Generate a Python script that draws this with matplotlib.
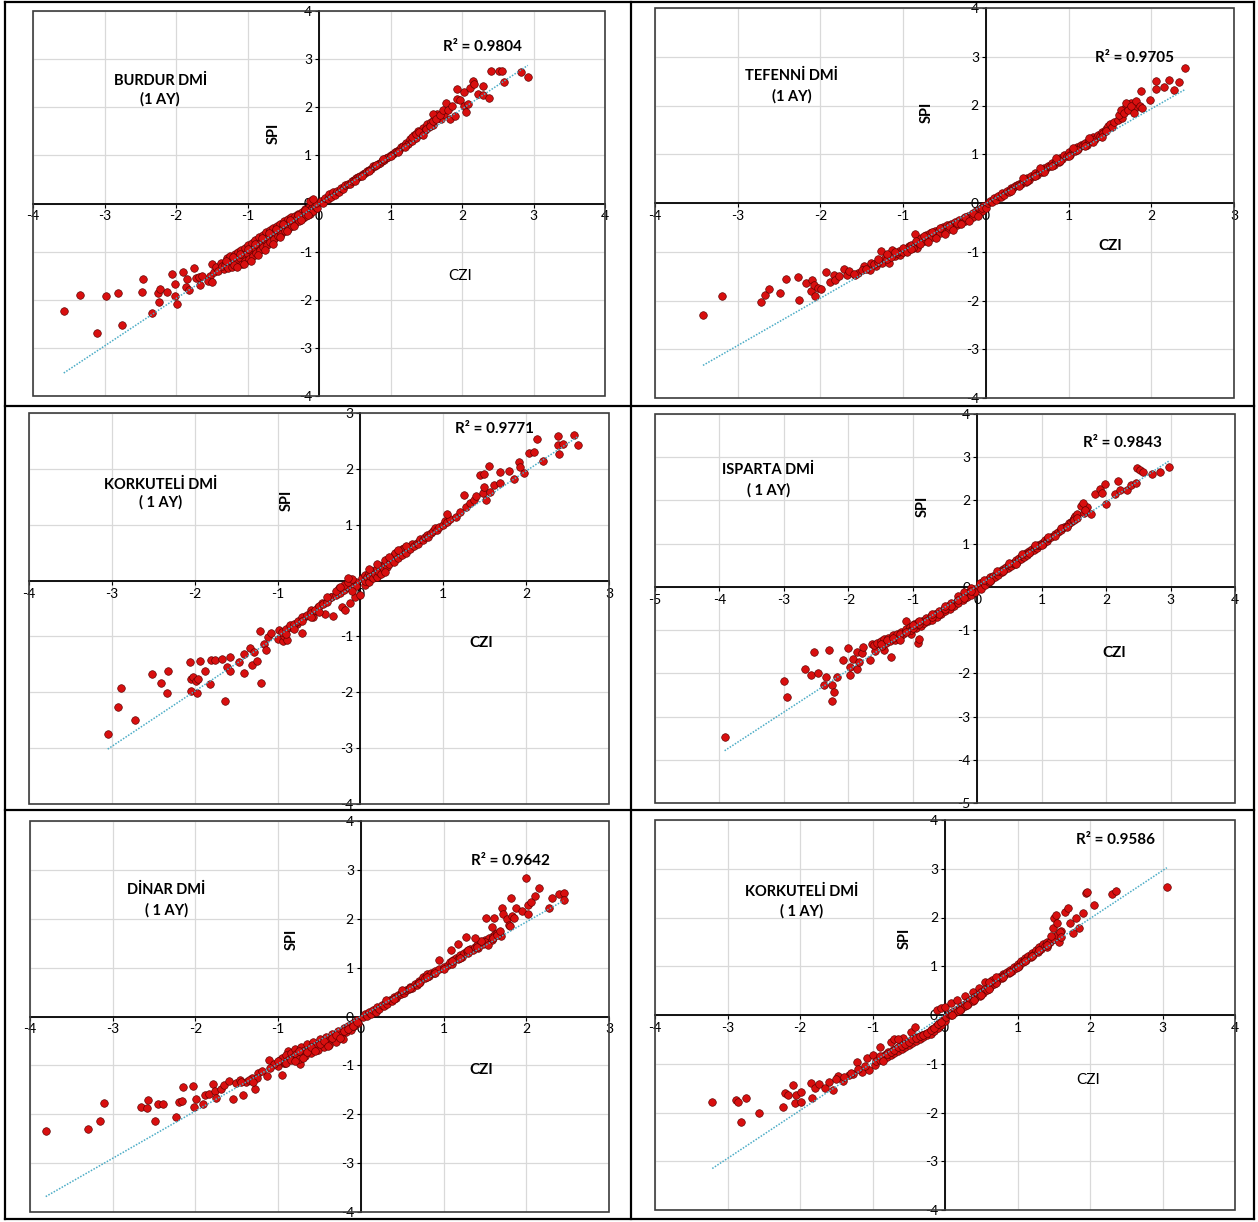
import numpy as np
import matplotlib.pyplot as plt
from matplotlib.lines import Line2D
from matplotlib.patches import Rectangle

plt.rcParams["font.family"] = ["Lato", "DejaVu Sans"]
plt.rcParams["axes.unicode_minus"] = False

# CZI / SPI pairs (approximate)
burdur = [
    (-3.57, -2.24), (-3.34, -1.90), (-2.98, -1.93), (-3.11, -2.69), (-2.81, -1.85), (-2.75, -2.52),
    (-2.46, -1.56), (-2.47, -1.83), (-2.33, -2.27), (-2.25, -1.87), (-2.23, -1.77), (-2.24, -2.05),
    (-2.13, -1.83), (-2.06, -1.47), (-2.02, -1.68), (-2.02, -1.92), (-1.98, -2.09), (-1.90, -1.43),
    (-1.85, -1.56), (-1.86, -1.73), (-1.82, -1.80), (-1.75, -1.35), (-1.72, -1.54), (-1.68, -1.52),
    (-1.67, -1.70), (-1.64, -1.50), (-1.53, -1.51), (-1.49, -1.25), (-1.55, -1.61), (-1.47, -1.42),
    (-1.50, -1.63),
    (-1.44, -1.32), (-1.41, -1.40), (-1.37, -1.24), (-1.33, -1.36), (-1.36, -1.30), (-1.29, -1.14),
    (-1.31, -1.28), (-1.27, -1.35), (-1.24, -1.10), (-1.21, -1.22), (-1.22, -1.32), (-1.18, -1.05),
    (-1.16, -1.17), (-1.19, -1.28), (-1.13, -1.01), (-1.11, -1.13), (-1.08, -1.25), (-1.09, -0.96),
    (-1.06, -1.08), (-1.03, -1.20), (-1.04, -0.92), (-1.01, -1.02), (-0.98, -1.15), (-0.99, -0.86),
    (-0.96, -0.97), (-0.93, -1.09), (-0.94, -0.82), (-0.91, -0.92), (-0.88, -1.03), (-0.89, -0.76),
    (-0.86, -0.86), (-0.83, -0.97), (-0.84, -0.70), (-0.81, -0.80), (-0.78, -0.91), (-0.79, -0.65),
    (-0.76, -0.75), (-0.73, -0.86), (-0.74, -0.60), (-0.71, -0.70), (-0.68, -0.80), (-0.69, -0.55),
    (-0.66, -0.64), (-0.63, -0.74), (-0.64, -0.50), (-0.61, -0.59), (-0.58, -0.68), (-0.59, -0.46),
    (-0.56, -0.54), (-0.53, -0.63), (-0.54, -0.42), (-0.51, -0.49), (-0.48, -0.57), (-0.49, -0.37),
    (-0.46, -0.44), (-0.43, -0.52), (-0.44, -0.33), (-0.41, -0.39), (-0.38, -0.47), (-0.39, -0.29),
    (-0.36, -0.35), (-0.33, -0.41), (-0.34, -0.25), (-0.31, -0.30), (-0.28, -0.36), (-0.29, -0.21),
    (-0.26, -0.26), (-0.23, -0.31), (-0.24, -0.17), (-0.21, -0.21), (-0.18, -0.26), (-0.19, -0.12),
    (-0.16, -0.16), (-0.13, -0.21), (-0.14, -0.08), (-0.11, -0.11), (-0.08, -0.15), (-0.09, -0.03),
    (-0.06, -0.06), (-0.03, -0.09), (-0.04, 0.02), (-0.12, 0.06), (-0.08, 0.09),
    (-1.30, -1.20), (-1.20, -1.12), (-1.10, -1.04), (-1.00, -0.94), (-0.90, -0.84), (-0.80, -0.72),
    (-0.70, -0.62), (-0.60, -0.52), (-0.50, -0.42), (-0.40, -0.34), (-0.30, -0.24), (-0.20, -0.14),
    (-1.15, -1.32), (-1.05, -1.26), (-0.95, -1.20), (-0.85, -1.08), (-0.75, -0.96), (-0.65, -0.84),
    (-0.55, -0.70), (-0.45, -0.58), (-0.35, -0.46), (-0.25, -0.34), (-0.15, -0.24),
    (0.03, 0.06), (0.06, 0.02), (0.09, 0.12), (0.12, 0.09), (0.14, 0.20), (0.17, 0.14), (0.20, 0.23),
    (0.22, 0.18), (0.25, 0.27), (0.28, 0.24), (0.31, 0.33), (0.34, 0.30), (0.37, 0.38), (0.40, 0.41),
    (0.43, 0.40), (0.46, 0.47), (0.49, 0.48), (0.52, 0.53), (0.55, 0.55), (0.58, 0.57), (0.61, 0.62),
    (0.64, 0.63), (0.67, 0.68), (0.70, 0.70), (0.73, 0.72), (0.76, 0.77), (0.79, 0.78), (0.82, 0.83),
    (0.85, 0.84), (0.88, 0.89), (0.91, 0.90), (0.94, 0.95), (0.97, 0.96), (1.00, 1.01), (1.03, 1.03),
    (1.06, 1.06), (1.09, 1.10), (1.12, 1.12), (1.15, 1.17), (1.18, 1.19), (1.21, 1.25), (1.24, 1.24),
    (1.27, 1.33), (1.30, 1.30), (1.33, 1.42), (1.36, 1.37), (1.39, 1.50), (1.42, 1.44), (1.45, 1.56),
    (1.48, 1.52), (1.51, 1.65), (1.54, 1.58), (1.57, 1.70), (1.60, 1.64), (1.62, 1.78),
    (1.30, 1.38), (1.35, 1.45), (1.40, 1.48), (1.45, 1.42), (1.50, 1.55), (1.55, 1.62), (1.60, 1.72),
    (1.65, 1.85), (1.70, 1.75), (1.75, 1.85), (0.50, 0.46), (0.60, 0.58), (0.70, 0.68), (0.80, 0.80),
    (0.90, 0.92), (1.00, 0.98), (1.10, 1.08), (1.20, 1.18),
    (1.59, 1.87), (1.63, 1.76), (1.69, 1.83), (1.73, 1.94), (1.77, 2.08), (1.81, 1.94), (1.83, 1.76),
    (1.86, 2.02), (1.90, 1.81), (1.93, 2.18), (1.93, 2.38), (1.97, 2.16), (2.03, 2.31), (2.03, 2.02),
    (2.06, 1.90), (2.08, 2.06), (2.11, 2.41), (2.15, 2.55), (2.17, 2.49), (2.23, 2.27), (2.29, 2.44),
    (2.30, 2.26), (2.38, 2.20), (2.41, 2.75), (2.52, 2.75), (2.56, 2.75), (2.59, 2.53), (2.83, 2.74),
    (2.92, 2.63),
]

tefenni = [
    (-3.42, -2.29), (-3.19, -1.90), (-2.72, -2.04), (-2.67, -1.89), (-2.62, -1.76), (-2.49, -1.85),
    (-2.42, -1.55), (-2.27, -1.52), (-2.26, -1.98), (-2.17, -1.64), (-2.11, -1.80), (-2.10, -1.57),
    (-2.08, -1.69), (-2.06, -1.91), (-2.03, -1.75), (-1.99, -1.76), (-1.93, -1.42), (-1.88, -1.63),
    (-1.84, -1.48), (-1.82, -1.57), (-1.78, -1.50), (-1.71, -1.35), (-1.68, -1.48), (-1.65, -1.40),
    (-1.58, -1.48), (-1.54, -1.44), (-1.47, -1.30), (-1.40, -1.38), (-1.39, -1.23), (-1.33, -1.30),
    (-1.27, -0.99), (-1.25, -1.23), (-1.17, -1.23), (-1.13, -0.97), (-1.10, -1.09), (-1.04, -1.06),
    (-0.98, -0.97), (-0.93, -0.89), (-0.86, -0.64), (-0.83, -0.92),
    (-1.60, -1.45), (-1.50, -1.38), (-1.45, -1.35), (-1.35, -1.25), (-1.30, -1.22), (-1.22, -1.12),
    (-1.20, -1.15), (-1.15, -1.10), (-1.08, -1.02), (-1.05, -0.98), (-1.00, -1.00), (-0.95, -0.93),
    (-0.90, -0.86), (-0.88, -0.92), (-0.78, -0.72), (-0.75, -0.78), (-0.72, -0.66), (-0.70, -0.74),
    (-0.68, -0.62), (-0.65, -0.70), (-0.62, -0.58), (-0.60, -0.66), (-0.57, -0.55), (-0.55, -0.62),
    (-0.52, -0.50), (-0.50, -0.58), (-0.47, -0.46), (-0.45, -0.54), (-0.42, -0.44), (-0.40, -0.50),
    (-0.37, -0.38), (-0.35, -0.46), (-0.32, -0.34), (-0.30, -0.40), (-0.27, -0.30), (-0.25, -0.36),
    (-0.22, -0.26), (-0.20, -0.32), (-0.17, -0.22), (-0.15, -0.28), (-0.12, -0.16), (-0.10, -0.22),
    (-0.07, -0.12), (-0.05, -0.16), (-0.03, -0.06),
    (-1.30, -1.15), (-1.20, -1.05), (-1.10, -1.00), (-1.00, -0.92), (-0.95, -1.00), (-0.90, -0.95),
    (-0.85, -0.78), (-0.80, -0.84), (-0.75, -0.68), (-0.70, -0.80), (-0.65, -0.60), (-0.60, -0.72),
    (-0.55, -0.52), (-0.50, -0.64), (-0.45, -0.48), (-0.40, -0.56), (-0.35, -0.40), (-0.30, -0.44),
    (-0.25, -0.28), (-0.20, -0.36), (-0.15, -0.20), (-0.10, -0.26), (-0.05, -0.10), (0.00, -0.10),
    (0.02, 0.00), (0.05, 0.05), (0.08, 0.02), (0.10, 0.10), (0.12, 0.06), (0.15, 0.14), (0.18, 0.12),
    (0.20, 0.20), (0.22, 0.16), (0.25, 0.24), (0.28, 0.22), (0.30, 0.30), (0.32, 0.28), (0.35, 0.34),
    (0.38, 0.36), (0.40, 0.40), (0.42, 0.38), (0.45, 0.46), (0.48, 0.44), (0.50, 0.52), (0.52, 0.48),
    (0.55, 0.56), (0.58, 0.55), (0.60, 0.62), (0.62, 0.58), (0.65, 0.66), (0.68, 0.64), (0.70, 0.72),
    (0.72, 0.68), (0.75, 0.76), (0.78, 0.75), (0.80, 0.82), (0.82, 0.78), (0.85, 0.86), (0.88, 0.85),
    (0.90, 0.92), (0.92, 0.90), (0.95, 0.98), (0.98, 0.96), (1.00, 1.04), (1.02, 0.98), (1.05, 1.08),
    (1.08, 1.06), (1.10, 1.14), (1.12, 1.10), (1.15, 1.18), (1.18, 1.20), (1.20, 1.24), (1.22, 1.20),
    (1.25, 1.30), (1.28, 1.28), (1.30, 1.36), (1.32, 1.32), (1.35, 1.40), (1.38, 1.38), (1.40, 1.46),
    (1.42, 1.44), (1.45, 1.52), (1.48, 1.58), (1.50, 1.62), (1.52, 1.55), (1.55, 1.66),
    (0.30, 0.24), (0.40, 0.34), (0.50, 0.46), (0.60, 0.56), (0.70, 0.64), (0.80, 0.76), (0.90, 0.86),
    (1.00, 0.96), (1.10, 1.08), (1.20, 1.16), (1.30, 1.26), (1.40, 1.36), (0.45, 0.52), (0.65, 0.72),
    (0.85, 0.92), (1.05, 1.12), (1.25, 1.34), (1.45, 1.48), (1.60, 1.70), (1.65, 1.75), (1.68, 1.95),
    (1.75, 2.05), (1.80, 1.95),
    (1.61, 1.81), (1.63, 1.91), (1.67, 1.85), (1.70, 2.05), (1.72, 1.91), (1.76, 1.98), (1.79, 1.85),
    (1.82, 2.09), (1.86, 2.00), (1.87, 2.29), (1.89, 1.95), (1.98, 2.12), (2.06, 2.50), (2.06, 2.34),
    (2.15, 2.38), (2.21, 2.52), (2.27, 2.32), (2.33, 2.48), (2.41, 2.76),
]

korkuteli_a = [
    (-3.05, -2.75), (-2.92, -2.26), (-2.89, -1.93), (-2.72, -2.50), (-2.52, -1.68), (-2.41, -1.84),
    (-2.33, -2.01), (-2.32, -1.62), (-2.06, -1.46), (-2.05, -1.98), (-2.04, -1.76), (-2.02, -1.72),
    (-1.99, -1.79), (-1.97, -2.02), (-1.94, -1.44), (-1.96, -1.76), (-1.87, -1.61), (-1.82, -1.86),
    (-1.80, -1.43), (-1.76, -1.43), (-1.67, -1.41), (-1.64, -2.16), (-1.61, -1.55), (-1.58, -1.61),
    (-1.57, -1.36), (-1.46, -1.46), (-1.41, -1.32), (-1.40, -1.66), (-1.33, -1.20), (-1.31, -1.52),
    (-1.29, -1.28), (-1.25, -1.44), (-1.21, -0.90), (-1.20, -1.84), (-1.16, -1.13), (-1.14, -1.25),
    (-1.11, -1.01), (-1.08, -0.94), (-1.00, -1.04), (-0.98, -0.89), (-0.94, -1.08), (-0.92, -0.99),
    (-0.89, -1.06), (-0.85, -0.83), (-0.77, -0.77), (-0.71, -0.94), (-0.68, -0.65), (-0.60, -0.53),
    (-0.57, -0.66), (-0.51, -0.47), (-0.46, -0.40), (-0.43, -0.60), (-0.33, -0.64), (-0.36, -0.29),
    (-0.22, -0.48), (-0.19, -0.53), (-0.12, -0.41), (-0.07, -0.29), (0.00, -0.26), (-0.26, -0.14),
    (-0.95, -0.92), (-0.90, -0.86), (-0.85, -0.80), (-0.80, -0.78), (-0.75, -0.72), (-0.70, -0.66),
    (-0.65, -0.62), (-0.60, -0.58), (-0.55, -0.52), (-0.50, -0.46), (-0.45, -0.42), (-0.40, -0.38),
    (-0.35, -0.30), (-0.30, -0.26), (-0.25, -0.22), (-0.20, -0.16), (-0.15, -0.12), (-0.10, -0.06),
    (-0.05, -0.02), (-0.20, -0.08), (-0.15, -0.02), (-0.10, 0.02), (-0.30, -0.18), (-0.40, -0.30),
    (0.05, -0.08), (-0.05, -0.10), (-0.10, -0.18), (-0.15, 0.04), (-0.25, -0.12), (-0.50, -0.56),
    (-0.60, -0.66), (-0.70, -0.72), (-0.80, -0.86), (-0.90, -0.96),
    (0.02, 0.04), (0.05, 0.00), (0.05, 0.10), (0.08, 0.06), (0.10, 0.14), (0.10, -0.02), (0.12, 0.08),
    (0.15, 0.18), (0.15, 0.04), (0.18, 0.12), (0.20, 0.22), (0.20, 0.06), (0.22, 0.16), (0.25, 0.26),
    (0.25, 0.12), (0.28, 0.20), (0.30, 0.32), (0.30, 0.36), (0.32, 0.24), (0.35, 0.30), (0.38, 0.40),
    (0.40, 0.34), (0.40, 0.45), (0.42, 0.50), (0.45, 0.40), (0.48, 0.52), (0.50, 0.46), (0.50, 0.56),
    (0.52, 0.58), (0.55, 0.50), (0.58, 0.60), (0.60, 0.56), (0.62, 0.66), (0.65, 0.62), (0.68, 0.68),
    (0.70, 0.66), (0.72, 0.74), (0.75, 0.72), (0.78, 0.78), (0.80, 0.82), (0.82, 0.78), (0.85, 0.86),
    (0.88, 0.88), (0.90, 0.94), (0.92, 0.90), (0.95, 0.96), (1.00, 1.00), (1.02, 1.06), (1.05, 1.04),
    (1.08, 1.10), (0.10, 0.20), (0.20, 0.30), (0.30, 0.16), (0.35, 0.42), (0.45, 0.55), (0.55, 0.62),
    (1.04, 1.20), (1.15, 1.14), (1.20, 1.23), (1.25, 1.54), (1.27, 1.31), (1.32, 1.38), (1.37, 1.44),
    (1.39, 1.51), (1.44, 1.89), (1.48, 1.57), (1.49, 1.91), (1.49, 1.68), (1.51, 1.44), (1.55, 2.06),
    (1.56, 1.59), (1.61, 1.71), (1.68, 1.95), (1.69, 1.74), (1.79, 1.96), (1.85, 1.81), (1.91, 2.12),
    (1.93, 2.04), (1.98, 1.92), (2.03, 2.28), (2.10, 2.31), (2.13, 2.53), (2.20, 2.14), (2.39, 2.58),
    (2.39, 2.43), (2.40, 2.27), (2.44, 2.44), (2.58, 2.61), (2.63, 2.42),
]

isparta = [
    (-3.92, -3.48), (-3.00, -2.17), (-2.95, -2.54), (-2.68, -1.91), (-2.58, -2.04), (-2.54, -1.51),
    (-2.47, -2.00), (-2.37, -2.28), (-2.35, -2.09), (-2.30, -1.47), (-2.25, -2.28), (-2.25, -2.65),
    (-2.22, -2.44), (-2.17, -2.09), (-2.08, -1.69), (-2.00, -1.42), (-1.98, -1.86), (-1.97, -2.03),
    (-1.93, -1.67), (-1.87, -1.90), (-1.86, -1.51), (-1.84, -1.74), (-1.79, -1.53), (-1.77, -1.38),
    (-1.66, -1.69), (-1.63, -1.33), (-1.59, -1.49), (-1.53, -1.30), (-1.44, -1.47), (-1.34, -1.63),
    (-1.31, -1.20), (-1.25, -1.16), (-1.10, -0.78), (-1.10, -1.01), (-1.03, -1.10), (-0.92, -1.30),
    (-0.91, -1.20),
    (-1.60, -1.35), (-1.55, -1.30), (-1.50, -1.25), (-1.48, -1.36), (-1.45, -1.20), (-1.42, -1.30),
    (-1.38, -1.18), (-1.35, -1.26), (-1.30, -1.12), (-1.28, -1.22), (-1.25, -1.08), (-1.20, -1.16),
    (-1.18, -1.04), (-1.15, -1.10), (-1.10, -0.98), (-1.05, -0.92), (-1.02, -1.00), (-0.98, -0.86),
    (-0.95, -0.94), (-0.92, -0.82), (-0.88, -0.90), (-0.85, -0.78), (-0.82, -0.84), (-0.80, -0.72),
    (-0.76, -0.80), (-0.72, -0.68), (-0.70, -0.76), (-0.66, -0.62), (-0.62, -0.70), (-0.60, -0.56),
    (-0.56, -0.62), (-0.52, -0.50), (-0.50, -0.56), (-0.46, -0.44), (-0.42, -0.50), (-0.40, -0.38),
    (-0.36, -0.44), (-0.32, -0.32), (-0.30, -0.38), (-0.26, -0.26), (-0.22, -0.30), (-0.20, -0.20),
    (-0.16, -0.24), (-0.12, -0.12), (-0.10, -0.18), (-0.06, -0.06), (-0.04, -0.12), (-0.10, -0.02),
    (-0.20, -0.12), (-0.30, -0.20),
    (-1.50, -1.32), (-1.40, -1.24), (-1.30, -1.18), (-1.20, -1.10), (-1.10, -1.04), (-1.00, -0.94),
    (-0.90, -0.86), (-0.80, -0.78), (-0.70, -0.70), (-0.60, -0.62), (-0.50, -0.50), (-0.40, -0.44),
    (-0.30, -0.30), (-0.20, -0.26), (-0.10, -0.10), (-0.70, -0.62), (-0.50, -0.44), (-0.90, -0.78),
    (-1.20, -1.24), (-1.00, -0.88),
    (0.02, 0.02), (0.05, 0.08), (0.06, -0.04), (0.10, 0.10), (0.12, 0.04), (0.15, 0.16), (0.18, 0.12),
    (0.20, 0.22), (0.22, 0.16), (0.25, 0.26), (0.28, 0.22), (0.30, 0.30), (0.32, 0.28), (0.35, 0.36),
    (0.38, 0.34), (0.40, 0.42), (0.42, 0.38), (0.45, 0.46), (0.48, 0.44), (0.50, 0.50), (0.52, 0.48),
    (0.55, 0.56), (0.58, 0.54), (0.60, 0.62), (0.62, 0.58), (0.65, 0.66), (0.68, 0.64), (0.70, 0.72),
    (0.72, 0.70), (0.75, 0.78), (0.78, 0.74), (0.80, 0.84), (0.82, 0.80), (0.85, 0.88), (0.88, 0.86),
    (0.90, 0.92), (0.92, 0.90), (0.95, 0.98), (0.98, 0.96), (1.00, 1.02), (1.02, 1.00), (1.05, 1.08),
    (1.08, 1.06), (1.10, 1.12), (1.15, 1.16), (1.20, 1.22), (1.25, 1.26), (1.30, 1.32), (1.35, 1.38),
    (1.40, 1.42), (1.42, 1.48), (1.45, 1.50), (1.48, 1.55), (1.50, 1.60), (1.52, 1.64), (1.55, 1.68),
    (0.10, 0.16), (0.20, 0.14), (0.30, 0.36), (0.40, 0.36), (0.50, 0.56), (0.60, 0.54), (0.70, 0.76),
    (0.80, 0.78), (0.90, 0.96), (1.00, 0.96), (1.10, 1.16), (1.20, 1.18), (1.30, 1.36), (1.40, 1.38),
    (1.50, 1.54), (1.55, 1.60), (1.65, 1.72), (1.70, 1.85),
    (1.61, 1.88), (1.64, 1.94), (1.68, 1.78), (1.77, 1.69), (1.83, 2.15), (1.91, 2.27), (1.94, 2.17),
    (1.99, 2.38), (2.00, 1.92), (2.14, 2.15), (2.19, 2.44), (2.22, 2.25), (2.33, 2.24), (2.39, 2.36),
    (2.47, 2.40), (2.48, 2.75), (2.53, 2.71), (2.58, 2.65), (2.71, 2.61), (2.84, 2.65), (2.97, 2.78),
]

dinar = [
    (-3.81, -2.35), (-3.30, -2.31), (-3.15, -2.13), (-3.10, -1.76), (-2.66, -1.86), (-2.58, -1.87),
    (-2.57, -1.70), (-2.49, -2.14), (-2.45, -1.80), (-2.39, -1.80), (-2.23, -2.05), (-2.20, -1.75),
    (-2.16, -1.72), (-2.15, -1.45), (-2.03, -1.42), (-2.02, -1.86), (-1.99, -1.69), (-1.91, -1.79),
    (-1.88, -1.61), (-1.83, -1.58), (-1.79, -1.38), (-1.76, -1.53), (-1.75, -1.67), (-1.69, -1.48),
    (-1.66, -1.41), (-1.59, -1.32), (-1.54, -1.68), (-1.51, -1.37), (-1.46, -1.29), (-1.43, -1.61),
    (-1.39, -1.34), (-1.32, -1.26), (-1.28, -1.48), (-1.24, -1.15), (-1.20, -1.12), (-1.14, -1.22),
    (-1.11, -0.88), (-1.00, -1.02), (-0.95, -1.19), (-0.93, -0.95), (-0.88, -0.71), (-0.80, -0.88),
    (-0.73, -0.97),
    (-0.98, -0.90), (-0.95, -0.84), (-0.92, -0.96), (-0.90, -0.78), (-0.88, -0.88), (-0.85, -0.74),
    (-0.82, -0.82), (-0.80, -0.66), (-0.78, -0.76), (-0.75, -0.86), (-0.72, -0.62), (-0.70, -0.70),
    (-0.68, -0.80), (-0.65, -0.56), (-0.62, -0.66), (-0.60, -0.74), (-0.58, -0.52), (-0.55, -0.60),
    (-0.52, -0.68), (-0.50, -0.46), (-0.48, -0.55), (-0.45, -0.62), (-0.42, -0.42), (-0.40, -0.50),
    (-0.38, -0.58), (-0.35, -0.36), (-0.32, -0.44), (-0.30, -0.52), (-0.28, -0.30), (-0.25, -0.38),
    (-0.22, -0.46), (-0.20, -0.24), (-0.18, -0.32), (-0.15, -0.20), (-0.12, -0.28), (-0.10, -0.14),
    (-0.08, -0.20), (-0.05, -0.08), (-0.03, -0.14),
    (-0.90, -0.96), (-0.85, -0.90), (-0.80, -0.92), (-0.75, -0.70), (-0.70, -0.84), (-0.65, -0.72),
    (-0.60, -0.62), (-0.55, -0.70), (-0.50, -0.56), (-0.45, -0.50), (-0.40, -0.60), (-0.35, -0.44),
    (-0.30, -0.38), (-0.25, -0.44), (-0.20, -0.30), (-0.15, -0.26), (-0.10, -0.20), (-0.05, -0.12),
    (-1.05, -0.98), (-1.00, -0.92), (-1.10, -1.05), (-1.25, -1.25), (-1.35, -1.30), (-1.45, -1.35),
    (-1.30, -1.35),
    (0.02, 0.00), (0.05, 0.06), (0.08, 0.02), (0.10, 0.10), (0.12, 0.06), (0.15, 0.14), (0.18, 0.10),
    (0.20, 0.20), (0.22, 0.16), (0.25, 0.24), (0.28, 0.22), (0.30, 0.30), (0.32, 0.26), (0.35, 0.34),
    (0.38, 0.32), (0.40, 0.40), (0.42, 0.38), (0.45, 0.44), (0.48, 0.46), (0.50, 0.50), (0.52, 0.48),
    (0.55, 0.54), (0.58, 0.56), (0.60, 0.60), (0.62, 0.58), (0.65, 0.66), (0.68, 0.64), (0.70, 0.72),
    (0.72, 0.70), (0.75, 0.80), (0.78, 0.78), (0.80, 0.86), (0.82, 0.82), (0.85, 0.90), (0.88, 0.88),
    (0.90, 0.94), (0.95, 0.98), (1.00, 1.02), (1.05, 1.06), (1.08, 1.12), (1.10, 1.08), (1.12, 1.16),
    (1.15, 1.20), (1.18, 1.18), (1.20, 1.26), (1.22, 1.22), (1.25, 1.30), (1.28, 1.34), (1.30, 1.30),
    (1.32, 1.38), (1.35, 1.36), (1.38, 1.42), (1.40, 1.46), (1.42, 1.40), (1.45, 1.50), (1.48, 1.48),
    (1.50, 1.56), (1.52, 1.50), (1.55, 1.60), (1.58, 1.56), (1.60, 1.64), (1.62, 1.68),
    (0.30, 0.34), (0.40, 0.36), (0.50, 0.54), (0.60, 0.58), (0.70, 0.68), (0.80, 0.80), (0.90, 0.90),
    (1.00, 0.98), (1.10, 1.14), (1.20, 1.20), (1.30, 1.36), (1.40, 1.42), (1.50, 1.52), (1.60, 1.60),
    (1.65, 1.70), (1.70, 1.65), (1.45, 1.55),
    (1.27, 1.62), (1.18, 1.49), (0.94, 1.15), (1.09, 1.37), (1.38, 1.60), (1.51, 2.02), (1.54, 1.47),
    (1.58, 1.83), (1.61, 2.02), (1.64, 1.67), (1.68, 1.75), (1.71, 2.21), (1.72, 2.10), (1.77, 1.99),
    (1.79, 1.88), (1.80, 1.85), (1.82, 2.42), (1.83, 2.05), (1.85, 2.02), (1.88, 2.23), (1.95, 2.16),
    (2.00, 2.84), (2.02, 2.29), (2.02, 2.09), (2.06, 2.35), (2.10, 2.46), (2.15, 2.62), (2.27, 2.23),
    (2.31, 2.42), (2.40, 2.51), (2.45, 2.53), (2.45, 2.38),
]

korkuteli_b = [
    (-3.21, -1.79), (-2.88, -1.74), (-2.86, -1.78), (-2.82, -2.19), (-2.74, -1.71), (-2.57, -2.02),
    (-2.24, -1.88), (-2.21, -1.61), (-2.16, -1.64), (-2.10, -1.44), (-2.07, -1.81), (-2.05, -1.65),
    (-1.99, -1.57), (-1.98, -1.78), (-1.85, -1.40), (-1.83, -1.71), (-1.79, -1.50), (-1.74, -1.42),
    (-1.66, -1.49), (-1.60, -1.38), (-1.55, -1.54), (-1.47, -1.26), (-1.41, -1.35), (-1.33, -1.23),
    (-1.27, -1.20), (-1.22, -0.96), (-1.15, -1.16), (-1.08, -0.89), (-1.05, -1.13), (-1.00, -0.83),
    (-0.97, -1.03), (-0.89, -0.65), (-0.86, -0.85),
    (-0.58, -0.48), (-0.47, -0.34), (-0.41, -0.24), (-0.11, 0.10), (-0.06, 0.14), (0.00, 0.17),
    (0.08, 0.24), (0.17, 0.31), (0.28, 0.38), (0.39, 0.48), (0.47, 0.55), (0.55, 0.68),
    (-0.95, -0.95), (-0.90, -0.92), (-0.85, -0.88), (-0.82, -0.80), (-0.80, -0.86), (-0.78, -0.76),
    (-0.75, -0.82), (-0.72, -0.72), (-0.70, -0.78), (-0.68, -0.70), (-0.65, -0.74), (-0.62, -0.64),
    (-0.60, -0.70), (-0.58, -0.62), (-0.55, -0.66), (-0.52, -0.58), (-0.50, -0.62), (-0.48, -0.54),
    (-0.45, -0.58), (-0.42, -0.50), (-0.40, -0.54), (-0.38, -0.46), (-0.35, -0.50), (-0.32, -0.42),
    (-0.30, -0.46), (-0.28, -0.38), (-0.25, -0.42), (-0.22, -0.34), (-0.20, -0.38), (-0.18, -0.28),
    (-0.15, -0.32), (-0.12, -0.22), (-0.10, -0.26), (-0.08, -0.16), (-0.05, -0.20), (-0.03, -0.10),
    (0.00, -0.12),
    (-0.90, -0.84), (-0.85, -0.94), (-0.80, -0.80), (-0.75, -0.76), (-0.70, -0.72), (-0.65, -0.66),
    (-0.60, -0.64), (-0.55, -0.60), (-0.50, -0.56), (-0.45, -0.50), (-0.40, -0.48), (-0.35, -0.44),
    (-0.30, -0.40), (-0.25, -0.36), (-0.20, -0.30), (-0.15, -0.26), (-0.10, -0.18), (-0.05, -0.14),
    (-1.10, -1.05), (-1.20, -1.10), (-1.30, -1.18), (-1.40, -1.28), (-1.50, -1.32), (-0.75, -0.55),
    (-0.70, -0.50), (-0.65, -0.50),
    (0.02, -0.04), (0.05, 0.02), (0.08, 0.00), (0.10, 0.06), (0.12, 0.04), (0.15, 0.10), (0.18, 0.08),
    (0.20, 0.16), (0.22, 0.12), (0.25, 0.20), (0.28, 0.18), (0.30, 0.26), (0.32, 0.22), (0.35, 0.30),
    (0.38, 0.28), (0.40, 0.36), (0.42, 0.34), (0.45, 0.42), (0.48, 0.40), (0.50, 0.48), (0.52, 0.46),
    (0.55, 0.54), (0.58, 0.52), (0.60, 0.60), (0.62, 0.58), (0.65, 0.66), (0.68, 0.64), (0.70, 0.72),
    (0.72, 0.70), (0.75, 0.78), (0.78, 0.76), (0.80, 0.84), (0.82, 0.82), (0.85, 0.88), (0.88, 0.86),
    (0.90, 0.92), (0.92, 0.90), (0.95, 0.98), (0.98, 0.96), (1.00, 1.04), (1.02, 1.00), (1.05, 1.10),
    (1.08, 1.08), (1.10, 1.16), (1.12, 1.12), (1.15, 1.22), (1.18, 1.20), (1.20, 1.28), (1.22, 1.24),
    (1.25, 1.34), (1.28, 1.30), (1.30, 1.40), (1.32, 1.36), (1.35, 1.46), (1.38, 1.42), (1.40, 1.50),
    (1.42, 1.46),
    (0.10, 0.00), (0.20, 0.10), (0.30, 0.20), (0.40, 0.30), (0.50, 0.42), (0.60, 0.54), (0.70, 0.66),
    (0.80, 0.78), (0.90, 0.88), (1.00, 0.98), (1.10, 1.10), (1.20, 1.22), (1.30, 1.34), (1.40, 1.40),
    (1.45, 1.50), (1.50, 1.55), (1.55, 1.65), (1.60, 1.72), (0.65, 0.72), (0.60, 0.68), (0.70, 0.78),
    (1.41, 1.44), (1.46, 1.63), (1.49, 1.78), (1.51, 1.98), (1.53, 2.05), (1.55, 1.88), (1.57, 1.50),
    (1.58, 1.70), (1.60, 1.61), (1.66, 2.12), (1.69, 2.19), (1.73, 1.88), (1.77, 1.68), (1.80, 1.98),
    (1.85, 1.78), (1.91, 2.09), (1.94, 2.50), (1.96, 2.53), (2.06, 2.26), (2.30, 2.48), (2.36, 2.54),
    (3.06, 2.63),
]

# linear trend lines as drawn (slope, intercept) and R² labels
trend = {
    "burdur": (0.985, -0.006),
    "tefenni": (0.971, -0.01),
    "korkuteli_a": (0.986, -0.01),
    "isparta": (0.972, 0.02),
    "dinar": (0.967, 0.0),
    "korkuteli_b": (0.984, 0.01),
}
r2_labels = ["R² = 0.9804", "R² = 0.9705", "R² = 0.9771", "R² = 0.9843", "R² = 0.9642", "R² = 0.9586"]
station_names = ["BURDUR DMİ", "TEFENNİ DMİ", "KORKUTELİ DMİ", "ISPARTA DMİ", "DİNAR DMİ", "KORKUTELİ DMİ"]
period_labels = ["(1 AY)", "(1 AY)", "( 1 AY)", "( 1 AY)", "( 1 AY)", "( 1 AY)"]

W, H = 1258, 1222

# layout: frame in pixels, axis limits, label positions (data coords)
panels = [
    dict(data=burdur, key="burdur", box=(33, 11, 605, 396), xl=(-4, 4), yl=(-4, 4),
         name_xy=(-2.22, 2.54), per_xy=(-2.22, 2.17), spi_xy=(-0.63, 1.45), czi_xy=(1.97, -1.51),
         r2_xy=(2.29, 3.25), tick_bold=True, czi_bold=False),
    dict(data=tefenni, key="tefenni", box=(655, 8, 1234, 398), xl=(-4, 3), yl=(-4, 4),
         name_xy=(-2.35, 2.61), per_xy=(-2.35, 2.19), spi_xy=(-0.71, 1.85), czi_xy=(1.50, -0.89),
         r2_xy=(1.80, 2.97), tick_bold=False, czi_bold=True),
    dict(data=korkuteli_a, key="korkuteli_a", box=(29, 413, 609, 804), xl=(-4, 3), yl=(-4, 3),
         name_xy=(-2.41, 1.72), per_xy=(-2.41, 1.40), spi_xy=(-0.89, 1.44), czi_xy=(1.46, -1.12),
         r2_xy=(1.62, 2.71), tick_bold=False, czi_bold=True),
    dict(data=isparta, key="isparta", box=(655, 414, 1235, 803), xl=(-5, 4), yl=(-5, 4),
         name_xy=(-3.24, 2.71), per_xy=(-3.24, 2.24), spi_xy=(-0.85, 1.86), czi_xy=(2.13, -1.53),
         r2_xy=(2.25, 3.32), tick_bold=True, czi_bold=True),
    dict(data=dinar, key="dinar", box=(30, 821, 609, 1212), xl=(-4, 3), yl=(-4, 4),
         name_xy=(-2.35, 2.60), per_xy=(-2.35, 2.17), spi_xy=(-0.84, 1.58), czi_xy=(1.45, -1.09),
         r2_xy=(1.81, 3.18), tick_bold=True, czi_bold=True),
    dict(data=korkuteli_b, key="korkuteli_b", box=(655, 820, 1235, 1210), xl=(-4, 4), yl=(-4, 4),
         name_xy=(-1.98, 2.53), per_xy=(-1.98, 2.12), spi_xy=(-0.56, 1.57), czi_xy=(1.98, -1.33),
         r2_xy=(2.35, 3.59), tick_bold=True, czi_bold=False),
]

fig = plt.figure(figsize=(W / 100, H / 100), dpi=100)
fig.patch.set_facecolor("white")

for i, p in enumerate(panels):
    x0, y0, x1, y1 = p["box"]
    ax = fig.add_axes([x0 / W, 1 - y1 / H, (x1 - x0) / W, (y1 - y0) / H])
    pts = np.array(p["data"])
    czi, spi = pts[:, 0], pts[:, 1]

    ax.set_xlim(*p["xl"])
    ax.set_ylim(*p["yl"])
    xt = list(range(p["xl"][0], p["xl"][1] + 1))
    yt = list(range(p["yl"][0], p["yl"][1] + 1))
    tcol = "black" if p["tick_bold"] else "#595959"
    tw = "bold" if p["tick_bold"] else "normal"
    ax.set_xticks(xt)
    ax.set_xticklabels([str(v) for v in xt], fontsize=11, fontweight=tw, color=tcol)
    ax.set_yticks(yt)
    ax.set_yticklabels([str(v) for v in yt], fontsize=11, fontweight=tw, color=tcol)
    ax.grid(True, color="#d9d9d9", lw=0.9)
    ax.set_axisbelow(True)

    for s in ("top", "right"):
        ax.spines[s].set_visible(False)
    ax.spines["left"].set_position(("data", 0))
    ax.spines["bottom"].set_position(("data", 0))
    for s in ("left", "bottom"):
        ax.spines[s].set_color("black")
        ax.spines[s].set_linewidth(1.3)
        ax.spines[s].set_zorder(2.5)
    ax.add_patch(Rectangle((0, 0), 1, 1, transform=ax.transAxes, fill=False,
                           edgecolor="#3c3c3c", lw=1.2, clip_on=False, zorder=5))
    ax.tick_params(direction="out", length=3, width=0.8, colors="black", pad=2)

    ax.scatter(czi, spi, s=30, c="#d80f0f", edgecolors="#5a0000", linewidths=0.45, zorder=3)

    slope, icpt = trend[p["key"]]
    xs = np.array([czi.min(), czi.max()])
    ax.plot(xs, slope * xs + icpt, ls=(0, (1, 1)), color="#4bacc6", lw=1.1, zorder=4)

    ax.text(*p["name_xy"], station_names[i], ha="center", va="center", fontsize=10.5, fontweight="bold")
    ax.text(*p["per_xy"], period_labels[i], ha="center", va="center", fontsize=10.5, fontweight="bold")
    ax.text(*p["spi_xy"], "SPI", ha="center", va="center", rotation=90, fontsize=10.5, fontweight="bold")
    ax.text(*p["czi_xy"], "CZI", ha="center", va="center", fontsize=11,
            fontweight="bold" if p["czi_bold"] else "normal")
    ax.text(*p["r2_xy"], r2_labels[i], ha="center", va="center", fontsize=11, fontweight="bold")

# table borders
for xa, ya, xb, yb in [(5, 2, 1254, 2), (5, 1219, 1254, 1219), (5, 2, 5, 1219), (1254, 2, 1254, 1219),
                       (631, 2, 631, 1219), (5, 406, 1254, 406), (5, 810, 1254, 810)]:
    fig.add_artist(Line2D([xa / W, xb / W], [1 - ya / H, 1 - yb / H], transform=fig.transFigure,
                          color="black", lw=1.6))

fig.savefig("out.png", dpi=100)
